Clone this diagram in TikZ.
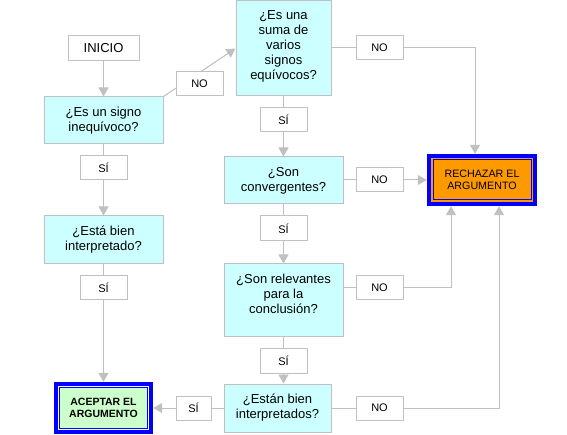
\documentclass[tikz,border=0pt]{standalone}
\usepackage{fontspec}
\setmainfont{Liberation Sans}
\usetikzlibrary{arrows.meta,calc}
\definecolor{lgray}{HTML}{C0C0C0}
\definecolor{qcyan}{HTML}{CCFFFF}
\definecolor{rejorange}{HTML}{FF9900}
\definecolor{accgreen}{HTML}{CCFFCC}
\pgfdeclarelayer{bg}
\pgfsetlayers{bg,main}
\tikzset{
  qfont/.style={font=\fontsize{13}{15}\selectfont, align=center},
  qbox/.style={draw=lgray, line width=1pt, fill=qcyan, inner sep=0pt, qfont},
  lbl/.style={draw=lgray, line width=1pt, fill=white, inner sep=0pt, align=center,
    minimum width=47pt, minimum height=24pt, font=\fontsize{11}{12}\selectfont},
  conn/.style={draw=lgray, line width=1pt},
  arr/.style={conn, -{Triangle[width=10pt,length=9pt,fill=lgray]}},
  accbox/.style={fill=blue, inner sep=0pt, align=center, minimum width=99pt, minimum height=52pt,
    font=\fontsize{10.5}{12}\selectfont\bfseries,
    path picture={
      \fill[white] ($(path picture bounding box.north west)+(4,4)$) rectangle ($(path picture bounding box.south east)+(-4,-4)$);
      \filldraw[fill=accgreen, draw=blue, line width=1pt] ($(path picture bounding box.north west)+(5.5,5.5)$) rectangle ($(path picture bounding box.south east)+(-5.5,-5.5)$);
    }},
  rejbox/.style={fill=blue, inner sep=0pt, align=center, minimum width=110pt, minimum height=52pt,
    font=\fontsize{10.7}{12}\selectfont,
    path picture={
      \fill[rejorange] ($(path picture bounding box.north west)+(4,4)$) rectangle ($(path picture bounding box.south east)+(-4,-4)$);
      \filldraw[fill=rejorange, draw=blue, line width=1pt] ($(path picture bounding box.north west)+(6,6)$) rectangle ($(path picture bounding box.south east)+(-6,-6)$);
    }},
}
\begin{document}
\begin{tikzpicture}[x=1pt,y=-1pt]
\useasboundingbox (0,0) rectangle (567,435);
% left column
\node[qbox, fill=white, minimum width=71pt, minimum height=25pt] (inicio) at (103.5,48.5) {INICIO};
\node[qbox, minimum width=119pt, minimum height=47pt] (q1) at (103.5,120.5) {¿Es un signo\\inequívoco?};
\node[lbl] (s1) at (103.5,168) {SÍ};
\node[qbox, minimum width=119pt, minimum height=48pt] (q1b) at (103.5,240) {¿Está bien\\interpretado?};
\node[lbl] (s2) at (103.5,288) {SÍ};
\node[accbox] (acc) at (103.5,408) {ACEPTAR EL\\ARGUMENTO};
\node[lbl] (no0) at (199.5,84) {NO};
% middle column
\node[qbox, minimum width=95pt, minimum height=95pt,
  label={[qfont, yshift=2pt, name=q2t]center:{¿Es una\\suma de\\varios\\signos\\equívocos?}}] (q2) at (283.5,48.5) {};
\node[lbl] (s3) at (283.5,120) {SÍ};
\node[qbox, minimum width=119pt, minimum height=47pt] (q3) at (283.5,180.5) {¿Son\\convergentes?};
\node[lbl, minimum height=25pt] (s4) at (283.5,228.5) {SÍ};
\node[qbox, minimum width=119pt, minimum height=72pt,
  label={[qfont, yshift=6pt, name=q4t]center:{¿Son relevantes\\para la\\conclusión?}}] (q4) at (283.5,300) {};
\node[lbl, minimum height=25pt] (s5) at (283.5,360.5) {SÍ};
\node[qbox, minimum width=107pt, minimum height=48pt] (q5) at (277.5,408) {¿Están bien\\interpretados?};
\node[lbl, minimum width=35pt] (s6) at (193.5,408) {SÍ};
% right column
\node[lbl] (no1) at (379.5,48) {NO};
\node[lbl] (no2) at (379.5,180) {NO};
\node[lbl] (no3) at (379.5,288) {NO};
\node[lbl] (no4) at (379.5,408) {NO};
\node[rejbox] (rej) at (482,180) {RECHAZAR EL\\ARGUMENTO};
\coordinate (c1) at (475,48);
\coordinate (c3) at (451,288);
\coordinate (c4) at (499,408);
\begin{pgfonlayer}{bg}
\draw[arr] (inicio) -- (q1);
\draw[arr] (q1) -- (q1b);
\draw[arr] (q1b) -- (acc);
\draw[arr] (q1.north east) -- (q2.west);
\draw[arr] (q2) -- (q3);
\draw[arr] (q3) -- (q4);
\draw[arr] (q4.south) -- (q4.south |- q5.north);
\draw[arr] (q5) -- (acc);
\draw[arr] (q2.east |- c1) -- (c1) -- (c1 |- rej.north);
\draw[arr] (q3.east |- rej.west) -- (rej.west);
\draw[arr] (q4.east |- c3) -- (c3) -- (c3 |- rej.south);
\draw[arr] (q5.east |- c4) -- (c4) -- (c4 |- rej.south);
\end{pgfonlayer}
\end{tikzpicture}
\end{document}
